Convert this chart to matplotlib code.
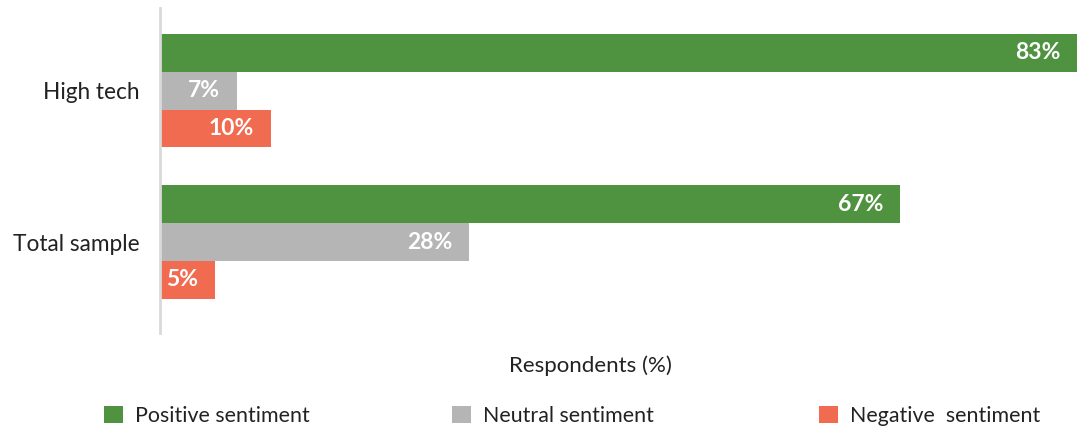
import matplotlib
matplotlib.use("Agg")
import matplotlib.pyplot as plt
import numpy as np

categories = ["Total sample", "High tech"]
series_names = ["Positive sentiment", "Neutral sentiment", "Negative sentiment"]
positive = [67, 83]
neutral = [28, 7]
negative = [5, 10]
colors = ["#4f9340", "#b5b5b5", "#f06b50"]

plt.rcParams['font.family'] = ['Lato', 'DejaVu Sans']

fig = plt.figure(figsize=(10.82, 4.29), dpi=100)
ax = fig.add_axes([160/1082, (429-333)/429, (1082-160)/1082, (333-8)/429])

y = np.arange(len(categories))
h = 0.25
series = [positive, neutral, negative]
offsets = [h, 0, -h]
bars = []
for vals, off, col, name in zip(series, offsets, colors, series_names):
    b = ax.barh(y + off, vals, height=h, color=col, label=name)
    bars.append(b)
    for rect, v in zip(b, vals):
        ax.annotate(f"{v}%", xy=(rect.get_width(), rect.get_y() + rect.get_height()/2),
                    xytext=(-17, 0), textcoords='offset pixels',
                    ha='right', va='center', color='white', fontsize=16.5,
                    fontweight='bold')

ax.set_xlim(0, 922/11.05)
ax.set_ylim(-0.60, 1.545)
ax.set_yticks(y)
ax.set_yticklabels(categories, fontsize=16.3, color='#222222')
ax.tick_params(axis='y', length=0, pad=15)
ax.set_xticks([])
for s in ['top', 'right', 'bottom']:
    ax.spines[s].set_visible(False)
ax.spines['left'].set_color('#d9d9d9')
ax.spines['left'].set_linewidth(2)

fig.text(590/1082, 1 - 366/429, "Respondents (%)", ha='center', va='center',
         fontsize=16, color='#222222')

legend_x = [98, 446, 813]
for b, name, lx in zip(bars, series_names, legend_x):
    label = name if name != "Negative sentiment" else "Negative  sentiment"
    fig.legend([b], [label], loc='center left', bbox_to_anchor=(lx/1082, 1 - 416/429),
               frameon=False, fontsize=15.4, handlelength=0.85, handleheight=0.85,
               handletextpad=0.6, borderaxespad=0, borderpad=0.3,
               labelcolor='#222222')

fig.savefig("out.png", dpi=100)
